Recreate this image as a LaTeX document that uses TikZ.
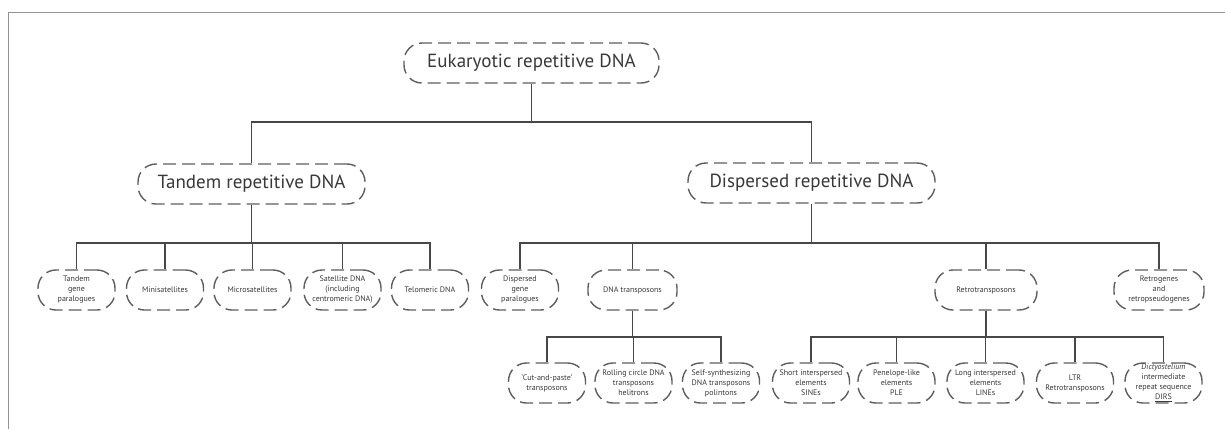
\documentclass[tikz,border=0pt]{standalone}
\usepackage{fontspec}
\setmainfont{PT Sans}
\usepackage{tikz}

\definecolor{boxgray}{HTML}{5E5E5E}
\definecolor{linegray}{HTML}{474747}
\definecolor{txtgray}{HTML}{383838}

\tikzset{
  box/.style={draw=boxgray, line width=1.4pt, dash pattern=on 13pt off 6pt,
    rounded corners=18pt, text=txtgray, align=center, inner sep=0pt,
    minimum height=40pt},
  bigbox/.style={box, font=\fontsize{19}{22}\selectfont},
  smallbox/.style={box, font=\fontsize{8}{10}\selectfont, minimum width=77pt},
  link/.style={draw=linegray, line width=1.3pt},
  frameline/.style={draw=gray!85, line width=1pt}
}

\begin{document}
\begin{tikzpicture}[x=1pt,y=-1pt]
\useasboundingbox (0,0) rectangle (1225,429);
\draw[frameline] (1225,12) -- (8,12) -- (8,429);

% top levels
\node[bigbox, minimum width=255pt] (euk) at (531.5,63) {Eukaryotic repetitive DNA};
\node[bigbox, minimum width=227pt] (tandem) at (251.5,184) {Tandem repetitive DNA};
\node[bigbox, minimum width=247pt] (dispersed) at (811.5,183) {Dispersed repetitive DNA};

% tandem repeats
\node[smallbox] (tgp) at (76.5,290) {Tandem\\gene\\paralogues};
\node[smallbox] (mini) at (165,290) {Minisatellites};
\node[smallbox] (micro) at (252.5,290) {Microsatellites};
\node[smallbox] (sat) at (342.5,290) {Satellite DNA\\(including\\centromeric DNA)};
\node[smallbox] (telo) at (430,290) {Telomeric DNA};

% dispersed repeats
\node[smallbox] (dgp) at (520,290) {Dispersed\\gene\\paralogues};
\node[smallbox, minimum width=89pt] (dnat) at (632.5,290) {DNA transposons};
\node[smallbox, minimum width=102pt] (retro) at (986,290) {Retrotransposons};
\node[smallbox, minimum width=90pt] (retrog) at (1159,290) {Retrogenes\\and\\retropseudogenes};

% DNA transposons
\node[smallbox] (cut) at (547,383) {`Cut-and-paste'\\transposons};
\node[smallbox] (roll) at (633.5,383) {Rolling circle DNA\\transposons\\helitrons};
\node[smallbox] (self) at (721,383) {Self-synthesizing\\DNA transposons\\polintons};

% retrotransposons
\node[smallbox] (sine) at (811,383) {Short interspersed\\elements\\SINEs};
\node[smallbox] (ple) at (896.5,383) {Penelope-like\\elements\\PLE};
\node[smallbox] (line) at (985.5,383) {Long interspersed\\elements\\LINEs};
\node[smallbox] (ltr) at (1075,383) {LTR\\Retrotransposons};
\node[smallbox] (dirs) at (1163.5,383) {\textit{Dictyostelium}\\intermediate\\repeat sequence\\\underline{DIRS}};

% connectors
\coordinate (busA) at (euk.south |- 0,122);
\draw[link] (euk.south) -- (busA) -| (tandem.north);
\draw[link] (busA) -| (dispersed.north);

\coordinate (busB) at (tandem.south |- 0,243);
\draw[link] (tandem.south) -- (busB);
\foreach \n in {tgp,mini,micro,sat,telo}
  \draw[link] (busB) -| (\n.north);

\coordinate (busC) at (dispersed.south |- 0,243);
\draw[link] (dispersed.south) -- (busC);
\foreach \n in {dgp,dnat,retro,retrog}
  \draw[link] (busC) -| (\n.north);

\coordinate (busD) at (dnat.south |- 0,337);
\draw[link] (dnat.south) -- (busD);
\foreach \n in {cut,roll,self}
  \draw[link] (busD) -| (\n.north);

\coordinate (busE) at (retro.south |- 0,337);
\draw[link] (retro.south) -- (busE);
\foreach \n in {sine,ple,line,ltr,dirs}
  \draw[link] (busE) -| (\n.north);
\end{tikzpicture}
\end{document}
